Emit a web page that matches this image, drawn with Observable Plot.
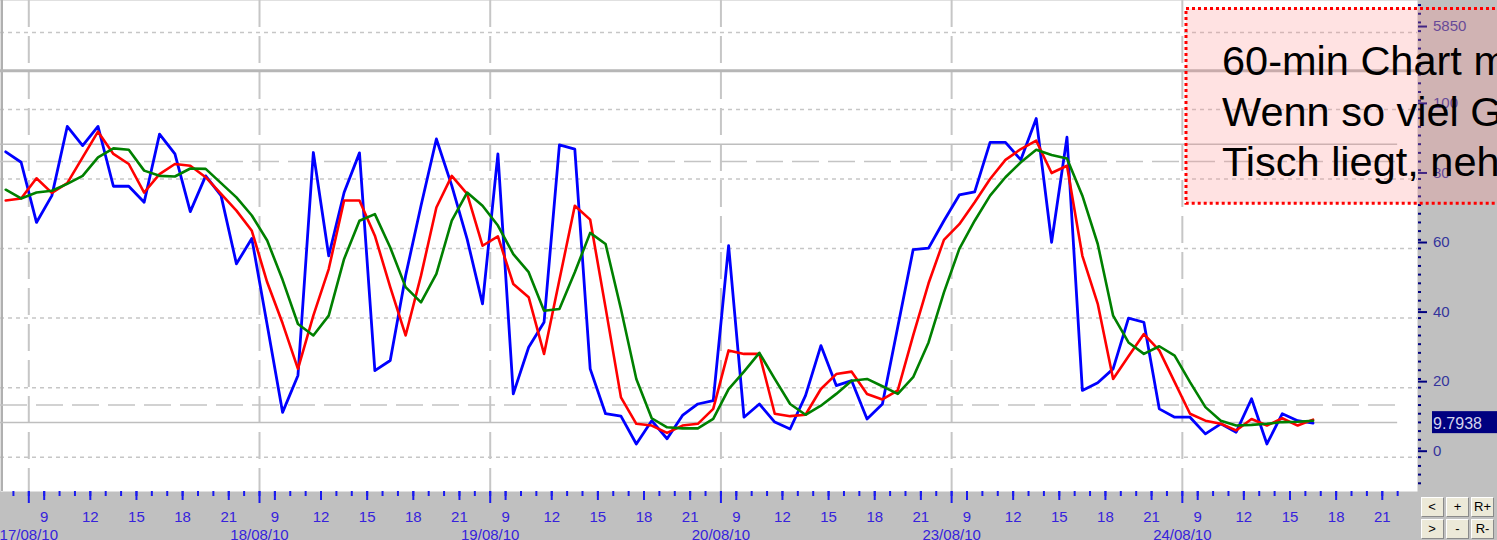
<!DOCTYPE html>
<html><head><meta charset="utf-8">
<script src="https://cdn.jsdelivr.net/npm/d3@7"></script>
<script src="https://cdn.jsdelivr.net/npm/@observablehq/plot@0.6"></script>
<style>
html,body{margin:0;padding:0;background:#c0c0c0;overflow:hidden;}
#chart{position:relative;width:1497px;height:540px;overflow:hidden;}
.btn{position:absolute;width:23px;height:20px;background:#ece9d8;border:1px solid;border-color:#ffffff #8a8a8a #8a8a8a #ffffff;box-sizing:border-box;font:13px "Liberation Sans",Arial,sans-serif;color:#000;text-align:center;line-height:18px;}
</style></head><body><div id="chart"></div>
<script>
// ---- data (hourly bars, slot 0 = 8h of the first day) ----
const firstSlot = -2;
const blueK = [87.8, 84.8, 67.5, 75.2, 95.1, 89.6, 95.1, 77.9, 77.9, 73.3,
 92.9, 87.2, 70.6, 80.9, 75.2, 55.6, 62.9, 38.0, 12.9, 23.5,
 87.6, 57.9, 76.1, 87.5, 24.9, 27.8, 52.2, 72.3, 91.5, 78.1,
 62.7, 44.1, 87.2, 18.2, 31.6, 38.8, 89.8, 88.6, 25.4, 12.5,
 11.8, 3.8, 10.5, 5.3, 12.0, 15.3, 16.3, 60.8, 11.5, 15.3,
 10.1, 8.1, 17.7, 32.1, 20.6, 22.0, 11.0, 15.3, 37.5, 59.7,
 60.1, 68.0, 75.4, 76.3, 90.5, 90.5, 85.5, 97.4, 61.8, 92.0,
 19.2, 21.4, 25.4, 40.0, 38.8, 13.9, 11.5, 11.5, 6.7, 9.6,
 7.2, 16.8, 3.8, 12.5, 10.5, 9.8];
const redD = [73.8, 74.4, 80.2, 76.0, 78.8, 86.2, 93.6, 87.2, 84.3, 76.1,
 81.4, 84.3, 83.8, 80.5, 75.7, 70.9, 65.1, 50.3, 38.5, 25.4,
 40.7, 54.1, 73.8, 73.8, 63.7, 48.9, 35.0, 52.2, 71.8, 80.9,
 75.7, 60.8, 63.5, 49.8, 46.0, 29.7, 51.0, 72.3, 68.3, 43.0,
 17.2, 9.6, 9.1, 7.0, 9.1, 9.6, 13.9, 30.7, 29.7, 29.7,
 12.5, 11.8, 12.2, 19.6, 23.9, 24.6, 18.2, 16.6, 19.2, 35.0,
 50.0, 62.5, 67.0, 73.3, 80.0, 85.5, 88.6, 91.0, 81.7, 83.8,
 57.9, 44.1, 22.5, 29.0, 35.4, 30.7, 21.6, 12.5, 10.5, 9.6,
 7.7, 11.0, 9.1, 11.2, 9.1, 10.8];
const greenSD = [76.9, 74.4, 76.1, 76.6, 78.6, 80.9, 86.2, 88.8, 88.4, 82.4,
 80.9, 80.7, 83.0, 82.9, 78.8, 74.7, 69.5, 62.3, 51.0, 38.3,
 35.0, 40.7, 57.0, 68.0, 69.9, 60.3, 48.9, 44.5, 52.7, 68.0,
 76.1, 72.3, 66.6, 58.4, 53.2, 42.1, 42.6, 53.2, 64.5, 61.3,
 42.6, 22.5, 11.2, 8.6, 8.3, 8.3, 11.0, 19.6, 24.6, 30.0,
 22.5, 15.3, 12.2, 14.8, 18.2, 22.0, 22.5, 20.4, 18.2, 23.0,
 33.0, 47.4, 59.9, 68.0, 75.2, 80.5, 84.8, 88.4, 86.9, 85.9,
 75.2, 61.3, 40.7, 33.0, 29.7, 31.9, 29.2, 21.6, 14.4, 10.5,
 9.1, 9.3, 9.6, 10.1, 10.2, 10.5];
const days = ["17/08/10", "18/08/10", "19/08/10", "20/08/10", "23/08/10", "24/08/10"];
const firstHour = 8;
const hoursPerDay = 15;
const hourLabels = [9, 12, 15, 18, 21];
const yTickValues = [0, 20, 40, 60, 80, 100, 122.1];
const yTickLabels = ["0", "20", "40", "60", "80", "100", "5850"];
const solidLevels = [10, 90];
const dashLevels = [15, 85];
const priceLine = [111.1];
const lastValue = 9.7938;
const noteLines = ["60-min Chart m", "Wenn so viel G", "Tisch liegt, neh"];
const buttons = [["<", "+", "R+"], [">", "-", "R-"]];

// ---- derived ----
const xDomain = [-1.84, 90.29];
const yDomain = [-9.86, 131.31];
const firstTick = -1, lastTick = 89;
const toRows = arr => arr.map((v, i) => ({slot: firstSlot + i + 0.5, value: v}));
const daySlots = days.map((d, i) => i * hoursPerDay);
const hourSlots = daySlots.flatMap(s => hourLabels.map(h => s + h - firstHour));
const minorSlots = d3.range(firstTick, lastTick + 1);
const minorY = d3.range(-7.5, 131, 2.5);
const axisBlue = "#1a1af0", labelBlue = "#3622dc", navy = "#000080", rightLabel = "#34349c";
const grid = "#c6c6c6";
const font = "'Liberation Sans', Arial, sans-serif";

const plot = Plot.plot({
  width: 1497, height: 540,
  marginLeft: 0, marginRight: 80, marginTop: 0, marginBottom: 49,
  style: {background: "#c0c0c0", fontFamily: font},
  x: {type: "linear", domain: xDomain},
  y: {domain: yDomain},
  marks: [
    Plot.frame({fill: "white", stroke: null}),
    Plot.ruleY(yTickValues, {stroke: grid, strokeWidth: 1.5, strokeDasharray: "4,4"}),
    Plot.ruleX(daySlots, {stroke: grid, strokeWidth: 2, strokeDasharray: "27,9"}),
    Plot.ruleX([xDomain[0]], {stroke: "#b0b0b0", strokeWidth: 2, dx: 1.5}),
    Plot.ruleY(priceLine, {stroke: "#b6b6b6", strokeWidth: 3}),
    Plot.ruleY(solidLevels, {x1: xDomain[0], x2: lastTick, stroke: "#bebebe", strokeWidth: 1.5}),
    Plot.ruleY(dashLevels, {x1: xDomain[0], x2: lastTick, stroke: "#c4c4c4", strokeWidth: 1.5, strokeDasharray: "27,9"}),
    Plot.line(toRows(blueK), {x: "slot", y: "value", stroke: "#0000ff", strokeWidth: 2.8}),
    Plot.line(toRows(redD), {x: "slot", y: "value", stroke: "#ff0000", strokeWidth: 2.6}),
    Plot.line(toRows(greenSD), {x: "slot", y: "value", stroke: "#008000", strokeWidth: 2.6}),
    Plot.axisX({ticks: minorSlots, anchor: "bottom", tickSize: 5, fill: "none", stroke: axisBlue, strokeWidth: 2, label: null}),
    Plot.axisX({ticks: hourSlots, anchor: "bottom", tickSize: 9, tickPadding: 10.5,
      tickFormat: s => String(firstHour + (((s % hoursPerDay) + hoursPerDay) % hoursPerDay)),
      fill: labelBlue, stroke: axisBlue, strokeWidth: 2, fontSize: 15, label: null}),
    Plot.axisX({ticks: daySlots, anchor: "bottom", tickSize: 12, tickPadding: 25.5,
      tickFormat: s => days[Math.round(s / hoursPerDay)],
      fill: labelBlue, stroke: axisBlue, strokeWidth: 2, fontSize: 15, label: null}),
    Plot.axisY({ticks: minorY, anchor: "right", tickSize: 3, fill: "none", stroke: navy, strokeWidth: 2, label: null}),
    Plot.axisY({ticks: yTickValues, anchor: "right", tickSize: 9, tickPadding: 6.5, dy: -6,
      tickFormat: v => yTickLabels[yTickValues.indexOf(v)],
      fill: rightLabel, stroke: navy, strokeWidth: 2, fontSize: 15, label: null})
  ]
});

const chart = document.getElementById("chart");
chart.appendChild(plot);

// current value marker on the right axis
const svg = d3.select(plot);
const yv = plot.scale("y").apply(lastValue);
const vg = svg.append("g").attr("text-anchor", "start");
vg.append("rect").attr("x", 1432).attr("y", yv - 11.5).attr("width", 70).attr("height", 22).attr("fill", navy);
vg.append("text").attr("x", 1433).attr("y", yv + 6).attr("fill", "#d4d4ec").attr("text-anchor", "start")
  .attr("font-size", 16).attr("font-family", font).text(lastValue.toFixed(4));

// annotation box
const ng = svg.append("g").attr("text-anchor", "start");
ng.append("rect").attr("x", 1186).attr("y", 8.6).attr("width", 420).attr("height", 194.7)
  .attr("fill", "rgba(255,140,140,0.25)").attr("stroke", "#ff0000").attr("stroke-width", 3)
  .attr("stroke-dasharray", "3,3");
noteLines.forEach((t, i) => {
  ng.append("text").attr("x", 1222).attr("y", 75 + i * 50.5).attr("font-size", 41.5).attr("text-anchor", "start")
    .attr("font-family", font).attr("fill", "#000").text(t);
});

// navigation buttons
const bx = [1420.5, 1446, 1471], by = [496.5, 518.5];
buttons.forEach((row, r) => row.forEach((lab, c) => {
  const b = document.createElement("div");
  b.className = "btn";
  b.style.left = bx[c] + "px"; b.style.top = by[r] + "px";
  b.textContent = lab;
  chart.appendChild(b);
}));
</script></body></html>
